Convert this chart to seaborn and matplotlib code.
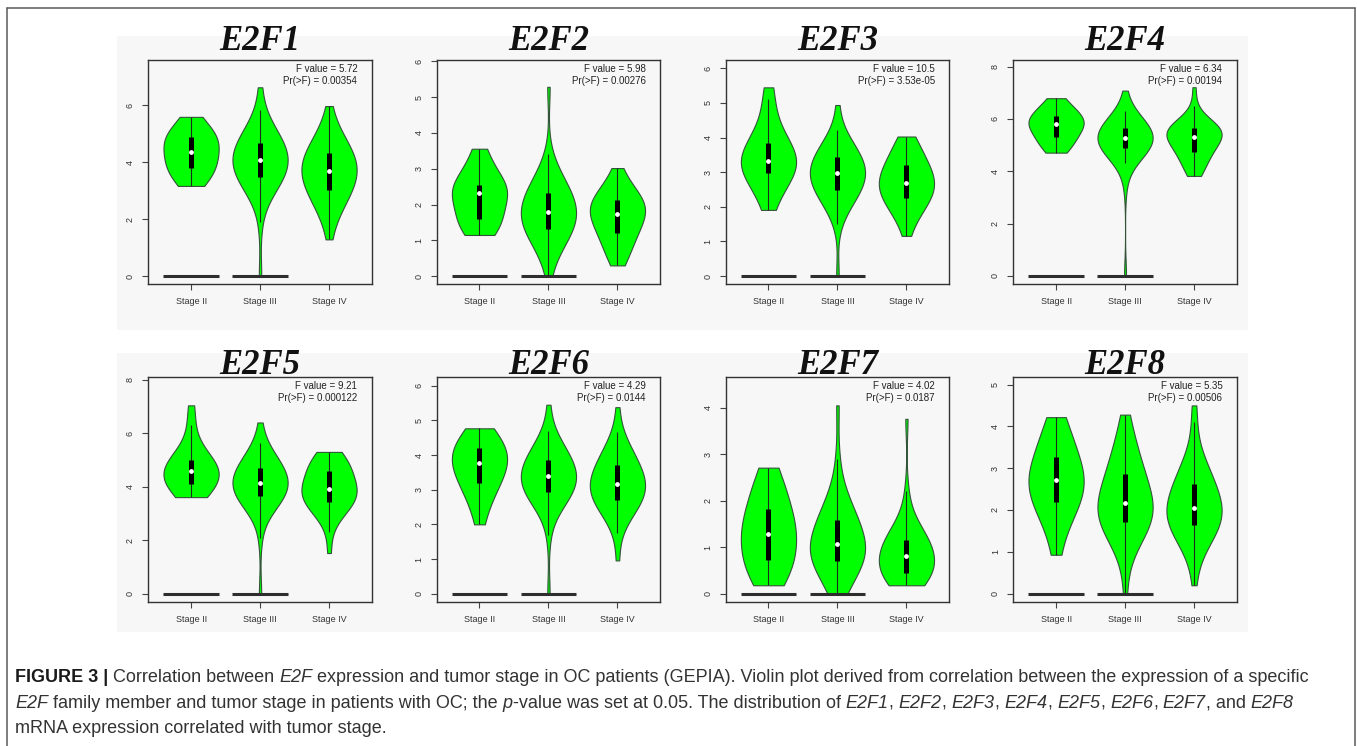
import numpy as np
import pandas as pd
import matplotlib
matplotlib.use("Agg")
import matplotlib.pyplot as plt
import seaborn as sns
from matplotlib.patches import Rectangle
from matplotlib.lines import Line2D
from matplotlib import cbook
from matplotlib.font_manager import FontProperties

# ---------------- data ----------------
STAGES = ["Stage II", "Stage III", "Stage IV"]
GENES = ["E2F1", "E2F2", "E2F3", "E2F4", "E2F5", "E2F6", "E2F7", "E2F8"]
F_VALUES = ["5.72", "5.98", "10.5", "6.34", "9.21", "4.29", "4.02", "5.35"]
P_VALUES = ["0.00354", "0.00276", "3.53e-05", "0.00194", "0.000122", "0.0144", "0.0187", "0.00506"]
ZERO_STAGES = ["Stage II", "Stage III"]
YTICK_MAX = [6, 6, 6, 8, 8, 6, 4, 5]
YTICK_STEP = [2, 1, 1, 2, 2, 1, 1, 1]

E2F1_II = [3.17, 3.3, 3.45, 3.6, 3.7, 3.79, 3.95, 4.05, 4.15, 4.25, 4.35, 4.5, 4.62, 4.72, 4.8, 4.9, 4.95, 5.05, 5.2, 5.4, 5.6]
E2F1_III = [0.0, 1.9, 2.69, 2.86, 2.98, 3.09, 3.19, 3.28, 3.35, 3.43, 3.49, 3.56, 3.62, 3.69, 3.74, 3.80, 3.86, 3.92, 3.97, 4.03, 4.08,
            4.13, 4.19, 4.24, 4.30, 4.36, 4.42, 4.47, 4.54, 4.60, 4.67, 4.73, 4.81, 4.89, 4.97, 5.07, 5.18, 5.31, 5.47, 5.85, 6.64]
E2F1_IV = [1.29, 1.86, 2.10, 2.29, 2.43, 2.56, 2.67, 2.77, 2.86, 2.95, 3.02, 3.10, 3.18, 3.25, 3.31, 3.38, 3.44, 3.52, 3.58, 3.64, 3.70,
           3.76, 3.82, 3.88, 3.94, 4.00, 4.07, 4.13, 4.20, 4.26, 4.34, 4.41, 4.50, 4.57, 4.67, 4.78, 4.89, 5.03, 5.20, 5.44, 5.98]

E2F2_II = [1.15, 1.25, 1.35, 1.45, 1.52, 1.59, 1.75, 1.9, 2.05, 2.2, 2.32, 2.36, 2.4, 2.45, 2.5, 2.55, 2.7, 2.85, 3.05, 3.3, 3.56]
E2F2_III = [0.02, 0.49, 0.66, 0.79, 0.90, 0.98, 1.06, 1.14, 1.19, 1.26, 1.31, 1.37, 1.42, 1.47, 1.51, 1.56, 1.61, 1.66, 1.70, 1.75, 1.79,
            1.84, 1.89, 1.94, 1.99, 2.04, 2.10, 2.14, 2.20, 2.26, 2.32, 2.38, 2.45, 2.51, 2.59, 2.68, 2.78, 2.89, 3.04, 3.4, 5.29]
E2F2_IV = [0.3, 0.42, 0.52, 0.62, 0.73, 0.83, 0.92, 1.00, 1.07, 1.14, 1.20, 1.27, 1.32, 1.38, 1.43, 1.49, 1.54, 1.59, 1.64, 1.69, 1.74,
           1.78, 1.81, 1.85, 1.89, 1.92, 1.96, 2.00, 2.04, 2.08, 2.13, 2.17, 2.22, 2.27, 2.33, 2.40, 2.47, 2.55, 2.66, 2.80, 3.02]

E2F3_II = [1.91, 2.3, 2.55, 2.75, 2.88, 2.99, 3.08, 3.15, 3.22, 3.28, 3.33, 3.4, 3.5, 3.6, 3.72, 3.85, 4.0, 4.2, 4.5, 5.1, 5.45]
E2F3_III = [0.0, 1.5, 1.84, 1.97, 2.08, 2.16, 2.24, 2.32, 2.37, 2.44, 2.49, 2.55, 2.60, 2.65, 2.69, 2.75, 2.79, 2.84, 2.88, 2.93, 2.97,
            3.01, 3.05, 3.10, 3.14, 3.19, 3.24, 3.28, 3.33, 3.37, 3.43, 3.48, 3.54, 3.60, 3.67, 3.74, 3.83, 3.93, 4.05, 4.22, 4.94]
E2F3_IV = [1.16, 1.45, 1.62, 1.75, 1.84, 1.93, 2.00, 2.07, 2.13, 2.19, 2.24, 2.30, 2.35, 2.39, 2.44, 2.48, 2.53, 2.58, 2.62, 2.66, 2.70,
           2.75, 2.79, 2.84, 2.89, 2.94, 2.99, 3.04, 3.09, 3.15, 3.21, 3.26, 3.33, 3.40, 3.47, 3.56, 3.65, 3.76, 3.90, 3.97, 4.03]

E2F4_II = [4.71, 4.85, 4.98, 5.1, 5.22, 5.32, 5.45, 5.55, 5.65, 5.73, 5.80, 5.86, 5.92, 5.98, 6.04, 6.11, 6.2, 6.3, 6.45, 6.6, 6.79]
E2F4_III = [0.0, 3.5, 4.33, 4.44, 4.53, 4.60, 4.66, 4.73, 4.77, 4.83, 4.87, 4.92, 4.96, 5.00, 5.04, 5.08, 5.12, 5.16, 5.20, 5.23, 5.27,
            5.31, 5.34, 5.37, 5.41, 5.45, 5.49, 5.52, 5.56, 5.60, 5.65, 5.69, 5.74, 5.79, 5.85, 5.91, 5.98, 6.06, 6.16, 6.30, 7.08]
E2F4_IV = [3.82, 3.9, 4.0, 4.14, 4.26, 4.36, 4.46, 4.54, 4.61, 4.69, 4.75, 4.82, 4.88, 4.94, 4.99, 5.05, 5.10, 5.16, 5.22, 5.27, 5.32,
           5.35, 5.38, 5.41, 5.44, 5.47, 5.50, 5.53, 5.57, 5.60, 5.64, 5.67, 5.72, 5.76, 5.81, 5.86, 5.92, 5.98, 6.07, 6.5, 7.21]

E2F5_II = [3.61, 3.7, 3.8, 3.9, 4.0, 4.11, 4.25, 4.35, 4.45, 4.52, 4.57, 4.63, 4.7, 4.8, 4.9, 5.01, 5.15, 5.35, 5.6, 6.3, 7.04]
E2F5_III = [0.0, 2.1, 2.95, 3.09, 3.20, 3.29, 3.38, 3.45, 3.52, 3.59, 3.64, 3.70, 3.76, 3.81, 3.86, 3.91, 3.96, 4.01, 4.06, 4.10, 4.15,
            4.20, 4.25, 4.30, 4.36, 4.41, 4.47, 4.52, 4.58, 4.63, 4.70, 4.76, 4.83, 4.90, 4.98, 5.08, 5.18, 5.29, 5.44, 5.64, 6.4]
E2F5_IV = [1.52, 2.3, 2.76, 2.89, 3.00, 3.09, 3.17, 3.25, 3.31, 3.38, 3.43, 3.49, 3.54, 3.60, 3.64, 3.70, 3.74, 3.79, 3.84, 3.89, 3.93,
           3.99, 4.05, 4.11, 4.18, 4.24, 4.31, 4.37, 4.44, 4.51, 4.59, 4.66, 4.74, 4.82, 4.90, 4.97, 5.04, 5.11, 5.18, 5.24, 5.30]

E2F6_II = [2.0, 2.45, 2.75, 2.95, 3.08, 3.18, 3.35, 3.48, 3.58, 3.68, 3.76, 3.84, 3.92, 4.0, 4.1, 4.21, 4.3, 4.4, 4.52, 4.65, 4.77]
E2F6_III = [0.0, 1.7, 2.35, 2.47, 2.56, 2.64, 2.71, 2.78, 2.83, 2.89, 2.94, 2.99, 3.04, 3.09, 3.13, 3.17, 3.21, 3.26, 3.30, 3.34, 3.38,
            3.42, 3.47, 3.51, 3.56, 3.61, 3.66, 3.70, 3.75, 3.80, 3.86, 3.91, 3.98, 4.03, 4.11, 4.19, 4.27, 4.38, 4.51, 4.68, 5.45]
E2F6_IV = [0.96, 1.75, 2.08, 2.21, 2.30, 2.39, 2.46, 2.53, 2.59, 2.65, 2.70, 2.76, 2.80, 2.85, 2.90, 2.94, 2.99, 3.04, 3.08, 3.12, 3.16,
           3.21, 3.26, 3.31, 3.37, 3.42, 3.48, 3.53, 3.59, 3.64, 3.71, 3.77, 3.84, 3.91, 3.99, 4.09, 4.19, 4.30, 4.45, 4.65, 5.38]

E2F7_II = [0.18, 0.3, 0.42, 0.52, 0.62, 0.72, 0.85, 0.98, 1.1, 1.2, 1.29, 1.38, 1.48, 1.58, 1.7, 1.83, 1.98, 2.15, 2.32, 2.5, 2.71]
E2F7_III = [0.0, 0.05, 0.22, 0.31, 0.39, 0.46, 0.52, 0.57, 0.61, 0.66, 0.70, 0.74, 0.78, 0.82, 0.85, 0.89, 0.92, 0.96, 0.99, 1.03, 1.06,
            1.11, 1.16, 1.20, 1.26, 1.30, 1.36, 1.41, 1.46, 1.52, 1.58, 1.64, 1.71, 1.77, 1.85, 1.94, 2.03, 2.14, 2.4, 2.9, 4.05]
E2F7_IV = [0.18, 0.20, 0.22, 0.25, 0.27, 0.29, 0.32, 0.35, 0.38, 0.41, 0.44, 0.49, 0.53, 0.57, 0.60, 0.63, 0.67, 0.71, 0.74, 0.77, 0.80,
           0.83, 0.87, 0.90, 0.94, 0.97, 1.01, 1.04, 1.08, 1.12, 1.16, 1.20, 1.25, 1.29, 1.35, 1.41, 1.47, 1.55, 1.8, 2.2, 3.76]

E2F8_II = [0.93, 1.5, 1.8, 1.98, 2.1, 2.19, 2.32, 2.44, 2.55, 2.64, 2.72, 2.8, 2.9, 3.0, 3.12, 3.26, 3.42, 3.6, 3.8, 4.0, 4.22]
E2F8_III = [0.0, 0.75, 1.09, 1.22, 1.31, 1.40, 1.47, 1.54, 1.60, 1.66, 1.71, 1.77, 1.81, 1.86, 1.91, 1.95, 2.00, 2.05, 2.09, 2.13, 2.17,
            2.23, 2.30, 2.36, 2.44, 2.50, 2.57, 2.64, 2.71, 2.79, 2.87, 2.94, 3.04, 3.12, 3.23, 3.35, 3.47, 3.62, 3.81, 3.98, 4.28]
E2F8_IV = [0.2, 0.8, 1.06, 1.18, 1.27, 1.34, 1.41, 1.48, 1.53, 1.59, 1.63, 1.68, 1.73, 1.77, 1.81, 1.85, 1.89, 1.94, 1.97, 2.01, 2.05,
           2.10, 2.16, 2.21, 2.27, 2.32, 2.38, 2.44, 2.50, 2.56, 2.63, 2.69, 2.77, 2.84, 2.93, 3.03, 3.13, 3.25, 3.45, 4.1, 4.5]

EXPR = {
    "E2F1": [E2F1_II, E2F1_III, E2F1_IV],
    "E2F2": [E2F2_II, E2F2_III, E2F2_IV],
    "E2F3": [E2F3_II, E2F3_III, E2F3_IV],
    "E2F4": [E2F4_II, E2F4_III, E2F4_IV],
    "E2F5": [E2F5_II, E2F5_III, E2F5_IV],
    "E2F6": [E2F6_II, E2F6_III, E2F6_IV],
    "E2F7": [E2F7_II, E2F7_III, E2F7_IV],
    "E2F8": [E2F8_II, E2F8_III, E2F8_IV],
}

# ---------------- layout (pixels) ----------------
W, H = 1357, 746
YLIMS = [(-0.28, 7.6), (-0.22, 6.04), (-0.23, 6.24), (-0.31, 8.25),
         (-0.31, 8.1), (-0.24, 6.25), (-0.18, 4.66), (-0.2, 5.18)]
COL_LEFT = [148.3, 436.7, 725.7, 1013.3]
AX_W = 223.5
ROW_TOP = [60, 377]
ROW_BOT = [284, 602]
TITLE_BASE = [49.5, 374]

BG = "#f7f7f7"
GREEN = "#00ff00"
EDGE = "#34543a"

sns.set_style("white")
plt.rcParams["font.family"] = ["Liberation Sans", "DejaVu Sans"]

fig = plt.figure(figsize=(W / 100, H / 100), dpi=100)
fig.patch.set_facecolor("white")


def fx(x):
    return x / W


def fy(y):
    return 1 - y / H


# light gray backdrop per row
for (y0, y1) in [(36, 330), (353, 632)]:
    fig.add_artist(Rectangle((fx(117), fy(y1)), (1248 - 117) / W, (y1 - y0) / H,
                             transform=fig.transFigure, facecolor=BG,
                             edgecolor="none", zorder=-5))

# outer frame
frame_kw = dict(transform=fig.transFigure, color="#5a5a5a", lw=1.1, zorder=10)
fig.add_artist(Line2D([fx(7), fx(1355)], [fy(8), fy(8)], **frame_kw))
fig.add_artist(Line2D([fx(7), fx(7)], [fy(8), 0], **frame_kw))
fig.add_artist(Line2D([fx(1355), fx(1355)], [fy(8), 0], **frame_kw))

for k, gene in enumerate(GENES):
    r, c = divmod(k, 4)
    left = COL_LEFT[c]
    top, bot = ROW_TOP[r], ROW_BOT[r]
    ax = fig.add_axes([fx(left), fy(bot), AX_W / W, (bot - top) / H])
    ax.set_facecolor(BG)

    vals = EXPR[gene]
    df = pd.DataFrame({
        "stage": np.repeat(STAGES, [len(v) for v in vals]),
        "expr": np.concatenate([np.asarray(v, float) for v in vals]),
    })
    sns.violinplot(data=df, x="stage", y="expr", order=STAGES, ax=ax,
                   cut=0, density_norm="width", width=0.8, inner=None,
                   color=GREEN, saturation=1, linecolor=EDGE, linewidth=0.8,
                   bw_adjust=1.2)

    # zero bars
    for s in ZERO_STAGES:
        p = STAGES.index(s)
        ax.hlines(0, p - 0.4, p + 0.4, colors="#2e2e2e", lw=2.2, zorder=3)

    # inner box
    for i, v in enumerate(vals):
        st = cbook.boxplot_stats(np.asarray(v, float))[0]
        ax.vlines(i, st["whislo"], st["whishi"], colors="#1e2a1e", lw=0.8, zorder=3)
        ax.vlines(i, st["q1"], st["q3"], colors="black", lw=3.6, zorder=4)
        ax.scatter([i], [st["med"]], s=12, color="white", linewidths=0, zorder=5)

    ax.set_xlim(-0.62, 2.62)
    ax.set_ylim(*YLIMS[k])
    ax.set_yticks(np.arange(0, YTICK_MAX[k] + 0.01, YTICK_STEP[k]))
    ax.set_xlabel("")
    ax.set_ylabel("")
    for sp in ax.spines.values():
        sp.set_visible(True)
        sp.set_color("#333333")
        sp.set_linewidth(1.0)
    ax.tick_params(axis="both", direction="out", length=4.6, width=0.8,
                   color="#444444", labelsize=6.5, labelcolor="#333333")
    ax.tick_params(axis="x", pad=4.5, bottom=True)
    ax.tick_params(axis="y", pad=5, left=True)
    for lab in ax.get_yticklabels():
        lab.set_rotation(90)
        lab.set_va("center")
        lab.set_ha("right")

    ax.annotate(f"F value = {F_VALUES[k]}", xy=(1, 1), xycoords="axes fraction",
                xytext=(-10.4, -6.7), textcoords="offset points",
                ha="right", va="center", fontsize=7, color="#222222")
    ax.annotate(f"Pr(>F) = {P_VALUES[k]}", xy=(1, 1), xycoords="axes fraction",
                xytext=(-10.4, -15.1), textcoords="offset points",
                ha="right", va="center", fontsize=7, color="#222222")

    cx = left + AX_W / 2
    fig.text(fx(cx), fy(TITLE_BASE[r]), gene, ha="center", va="baseline",
             fontsize=25, family="Liberation Serif", fontweight="bold",
             fontstyle="italic", color="#111111")

# ---------------- caption ----------------
CAPTION = [
    [("FIGURE 3 |", "bold"), (" Correlation between ", "normal"), ("E2F", "italic"),
     (" expression and tumor stage in OC patients (GEPIA). Violin plot derived from correlation between the expression of a specific", "normal")],
    [("E2F", "italic"), (" family member and tumor stage in patients with OC; the ", "normal"),
     ("p", "italic"), ("-value was set at 0.05. The distribution of ", "normal"),
     ("E2F1", "italic"), (", ", "normal"), ("E2F2", "italic"), (", ", "normal"),
     ("E2F3", "italic"), (", ", "normal"), ("E2F4", "italic"), (", ", "normal"),
     ("E2F5", "italic"), (", ", "normal"), ("E2F6", "italic"), (", ", "normal"),
     ("E2F7", "italic"), (", and ", "normal"), ("E2F8", "italic")],
    [("mRNA expression correlated with tumor stage.", "normal")],
]
CAP_BASE = [682, 708, 733]
CAP_X0, CAP_X1 = 15, 1312

renderer = fig.canvas.get_renderer()


def prop_for(style, size):
    if style == "bold":
        return FontProperties(family="Liberation Sans", weight="bold", size=size)
    if style == "italic":
        return FontProperties(family="Liberation Sans", style="italic", size=size)
    return FontProperties(family="Liberation Sans", size=size)


def text_w(s, prop):
    a = renderer.get_text_width_height_descent("|" + s + "|", prop, ismath=False)[0]
    b = renderer.get_text_width_height_descent("||", prop, ismath=False)[0]
    return a - b


def layout_line(runs, size, draw=False, base=0):
    x = CAP_X0
    for s, style in runs:
        prop = prop_for(style, size)
        sw = text_w(" ", prop)
        core = s.strip(" ")
        nlead = len(s) - len(s.lstrip(" "))
        ntrail = len(s) - len(s.rstrip(" "))
        x += nlead * sw
        if core:
            if draw:
                col = "#1a1a1a" if style == "bold" else "#333333"
                fig.text(fx(x), fy(base), core, fontproperties=prop,
                         ha="left", va="baseline", color=col)
            x += text_w(core, prop)
        x += ntrail * sw
    return x - CAP_X0


ref_size = 10.0
w0 = layout_line(CAPTION[0], ref_size)
cap_size = ref_size * (CAP_X1 - CAP_X0) / w0
for runs, base in zip(CAPTION, CAP_BASE):
    layout_line(runs, cap_size, draw=True, base=base)

fig.savefig("out.png", dpi=100, facecolor="white")
